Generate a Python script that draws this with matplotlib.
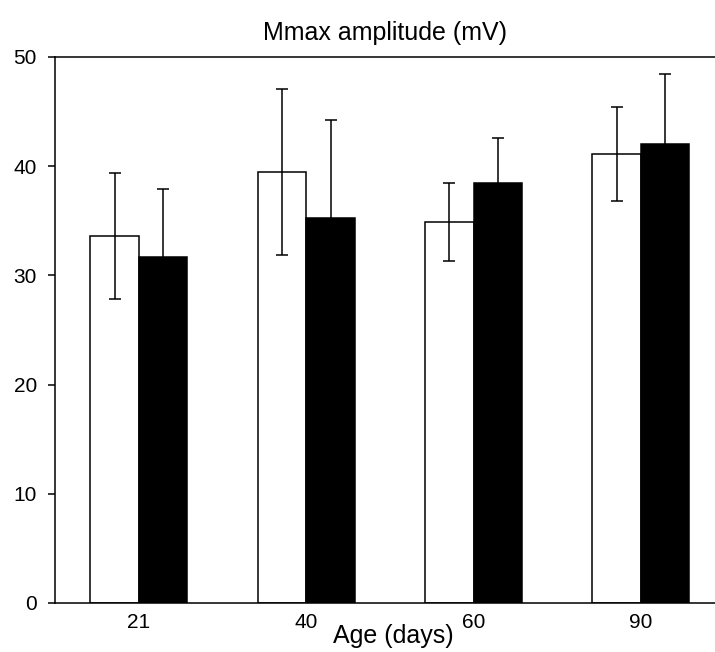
import numpy as np
import matplotlib
matplotlib.use("Agg")
import matplotlib.pyplot as plt

plt.rcParams['font.family'] = ['Liberation Sans', 'DejaVu Sans']

ages = ['21', '40', '60', '90']
open_mean = [33.6, 39.5, 34.9, 41.1]
open_err = [5.8, 7.6, 3.6, 4.3]
filled_mean = [31.7, 35.3, 38.5, 42.0]
filled_err = [6.2, 8.9, 4.1, 6.4]

fig = plt.figure(figsize=(7.15, 6.52), dpi=100)
ax = fig.add_axes([0.0769, 0.0752, 0.9231, 0.8374])

x = np.arange(len(ages))
w = 0.29
lw = 1.1
ax.bar(x - w/2, open_mean, w, color='white', edgecolor='black', linewidth=lw, zorder=2)
ax.bar(x + w/2, filled_mean, w, color='black', edgecolor='black', linewidth=lw, zorder=2)
ax.errorbar(x - w/2, open_mean, yerr=open_err, fmt='none', ecolor='black',
            elinewidth=lw, capsize=4.5, capthick=lw, zorder=3)
ax.errorbar(x + w/2, filled_mean, yerr=filled_err, fmt='none', ecolor='black',
            elinewidth=lw, capsize=4.5, capthick=lw, zorder=3)

ax.set_xlim(-0.502, 3.443)
ax.set_ylim(0, 50)
ax.set_yticks([0, 10, 20, 30, 40, 50])
ax.set_xticks(x)
ax.set_xticklabels(ages)
ax.tick_params(axis='y', length=5, width=lw, labelsize=15, pad=8)
ax.tick_params(axis='x', length=0, labelsize=15, pad=7)
ax.spines['right'].set_visible(False)
for s in ['left', 'top', 'bottom']:
    ax.spines[s].set_linewidth(lw)

ax.set_title('Mmax amplitude (mV)', fontsize=18, pad=12)
ax.set_xlabel('Age (days)', fontsize=18)
ax.xaxis.set_label_coords(0.512, -0.038)

fig.savefig('out.png', dpi=100)
